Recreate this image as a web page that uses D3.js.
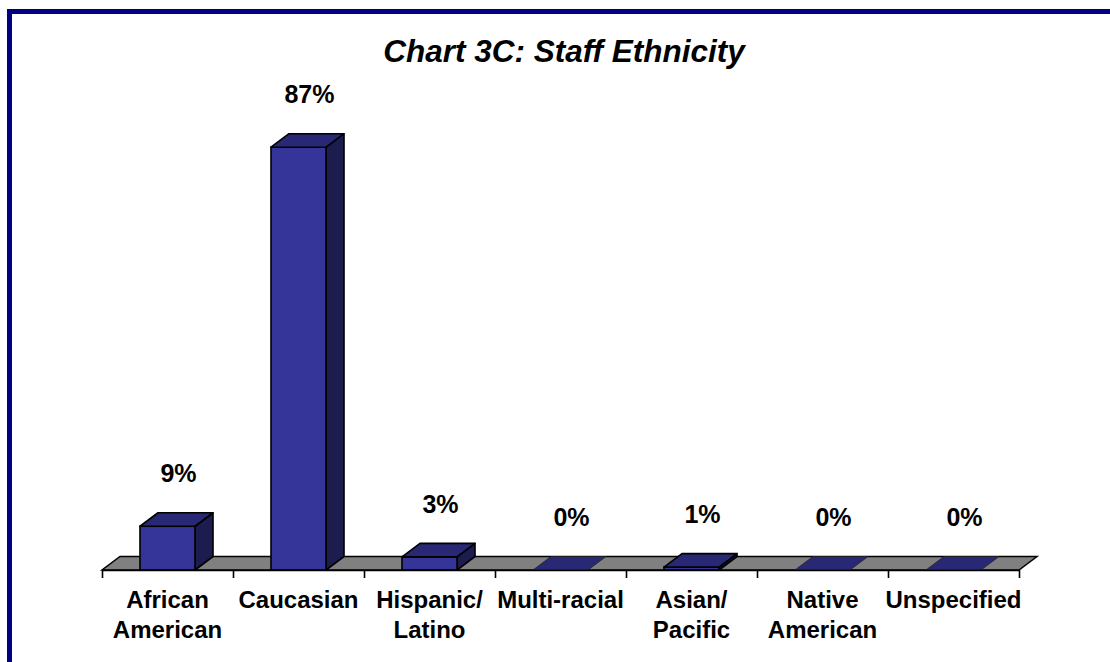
<!DOCTYPE html>
<html lang="en">
<head>
    <meta charset="UTF-8">
    <title>Chart 3C: Staff Ethnicity</title>
    <script src="https://d3js.org/d3.v7.min.js"></script>
    <style>
        body {
            margin: 0;
            padding: 0;
            background-color: #ffffff;
            font-family: "Liberation Sans", Arial, sans-serif;
        }
        svg { display: block; }
    </style>
</head>
<body>
    <div id="chart"></div>
    <script>
        // data (percent of staff)
        const categories = ["African American", "Caucasian", "Hispanic/ Latino", "Multi-racial",
                            "Asian/ Pacific", "Native American", "Unspecified"];
        const values = [9, 87, 2.7, 0, 0.6, 0, 0];
        const title = "Chart 3C: Staff Ethnicity";

        const width = 1110, height = 662;
        const axisLeft = 102, axisRight = 1019, baseY = 570;
        const depthX = 18, depthY = -13.5;

        const svg = d3.select("#chart")
            .append("svg")
            .attr("width", width)
            .attr("height", height);

        // navy frame (runs off the right and bottom edges)
        svg.append("rect")
            .attr("x", 9.5)
            .attr("y", 11.5)
            .attr("width", 1300)
            .attr("height", 900)
            .attr("fill", "none")
            .attr("stroke", "#000080")
            .attr("stroke-width", 5);

        const x = d3.scaleBand()
            .domain(categories)
            .range([axisLeft, axisRight])
            .padding(0);
        const y = d3.scaleLinear()
            .domain([0, 100])
            .range([baseY, baseY - 486]);

        const barW = x.bandwidth() * 0.42;

        // gray floor
        const floor = [
            [axisLeft, baseY], [axisRight, baseY],
            [axisRight + depthX, baseY + depthY], [axisLeft + depthX, baseY + depthY]
        ];
        svg.append("path")
            .attr("d", d3.line()(floor) + "Z")
            .attr("fill", "#808080")
            .attr("stroke", "#000")
            .attr("stroke-width", 1.5);

        // 3D columns
        const bars = svg.selectAll(".bar")
            .data(categories.map((c, i) => ({ cat: c, value: values[i] })))
            .enter()
            .append("g")
            .attr("class", "bar");

        bars.each(function(d) {
            const g = d3.select(this);
            const x0 = x(d.cat) + (x.bandwidth() - barW) / 2;
            const x1 = x0 + barW;
            const yt = y(d.value);
            const line = d3.line();
            // side face + front face
            if (d.value > 0) {
                g.append("path")
                    .attr("d", line([[x1, baseY], [x1 + depthX, baseY + depthY],
                                     [x1 + depthX, yt + depthY], [x1, yt]]) + "Z")
                    .attr("fill", "#1c1c4e")
                    .attr("stroke", "#000")
                    .attr("stroke-width", 1.6)
                    .attr("stroke-linejoin", "round");
                g.append("rect")
                    .attr("x", x0)
                    .attr("y", yt)
                    .attr("width", barW)
                    .attr("height", baseY - yt)
                    .attr("fill", "#353599")
                    .attr("stroke", "#000")
                    .attr("stroke-width", 1.6);
            }
            // top face
            g.append("path")
                .attr("d", line([[x0, yt], [x1, yt], [x1 + depthX, yt + depthY],
                                 [x0 + depthX, yt + depthY]]) + "Z")
                .attr("fill", "#282874")
                .attr("stroke", d.value > 0 ? "#000" : "#222")
                .attr("stroke-width", d.value > 0 ? 1.6 : 0.8)
                .attr("stroke-linejoin", "round");
        });

        // axis with ticks between categories
        const edges = d3.scaleLinear()
            .domain([0, categories.length])
            .range([axisLeft, axisRight]);
        svg.append("g")
            .attr("transform", `translate(0,${baseY})`)
            .call(d3.axisBottom(edges)
                .tickValues(d3.range(categories.length + 1))
                .tickFormat("")
                .tickSize(8)
                .tickSizeOuter(0))
            .call(g => g.select(".domain").attr("stroke", "#000").attr("stroke-width", 1.6))
            .call(g => g.selectAll(".tick line").attr("stroke", "#000").attr("stroke-width", 1.6));

        // category labels
        svg.selectAll(".cat")
            .data(categories)
            .enter()
            .append("text")
            .attr("class", "cat")
            .attr("x", d => x(d) + x.bandwidth() / 2)
            .attr("y", 608)
            .attr("text-anchor", "middle")
            .style("font-size", "24px")
            .style("font-weight", "bold")
            .selectAll("tspan")
            .data(d => d.split(" "))
            .enter()
            .append("tspan")
            .attr("x", function() { return d3.select(this.parentNode).attr("x"); })
            .attr("dy", (d, i) => i === 0 ? 0 : 30)
            .text(d => d);

        // value labels
        svg.selectAll(".val")
            .data(categories.map((c, i) => ({ cat: c, value: values[i] })))
            .enter()
            .append("text")
            .attr("class", "val")
            .attr("x", d => x(d.cat) + x.bandwidth() / 2 + 11)
            .attr("y", d => y(d.value) - 44)
            .attr("text-anchor", "middle")
            .style("font-size", "25px")
            .style("font-weight", "bold")
            .text(d => Math.round(d.value) + "%");

        // title
        svg.append("text")
            .attr("x", 564)
            .attr("y", 62)
            .attr("text-anchor", "middle")
            .style("font-size", "31.5px")
            .style("font-weight", "bold")
            .style("font-style", "italic")
            .text(title);
    </script>
</body>
</html>
